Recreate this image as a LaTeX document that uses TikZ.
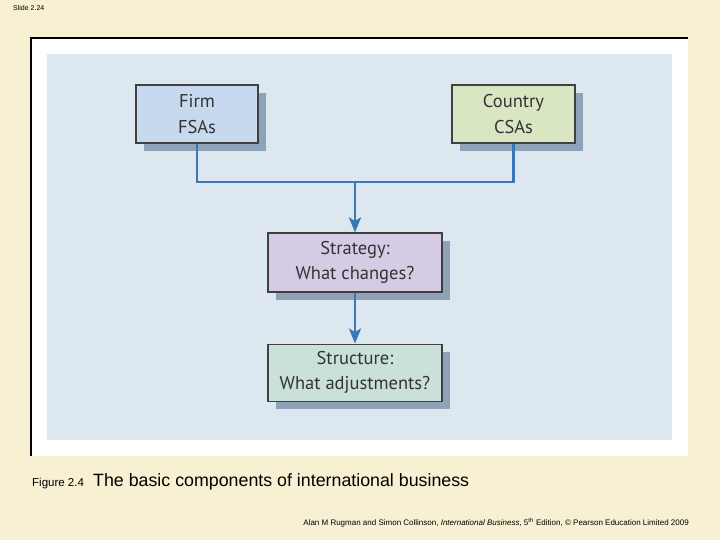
\documentclass[tikz,border=0pt]{standalone}
\usepackage{fontspec}
\setmainfont{Liberation Sans}
\newfontfamily\boxfont{PT Sans}
\usetikzlibrary{arrows.meta,positioning,shadows}
\definecolor{slideC}{HTML}{F7F0D2}
\definecolor{panelC}{HTML}{DDE7F0}
\definecolor{firmC}{HTML}{C6D9EE}
\definecolor{countryC}{HTML}{D9E6C2}
\definecolor{stratC}{HTML}{D6CBE4}
\definecolor{structC}{HTML}{C9E1D9}
\definecolor{shadeC}{HTML}{8FA3B8}
\definecolor{linkC}{HTML}{3B76B6}
\definecolor{textC}{HTML}{333333}
\tikzset{
  comp/.style={rectangle, draw=black!75, line width=1.1pt, fill=#1, align=center,
               font=\boxfont\fontsize{18.5}{25.5}\selectfont, text=textC,
               general shadow={shadow xshift=8pt, shadow yshift=-8pt, fill=shadeC}},
  link/.style={line width=2.8pt, draw=linkC},
  arr/.style={link, -{Stealth[length=15pt, width=12pt, inset=3.5pt]}},
}
\begin{document}
\begin{tikzpicture}[x=1pt, y=-1pt, node distance=51pt]
    % slide background and frame
    \fill[slideC] (0,0) rectangle (720,540);
    \useasboundingbox (0,0) rectangle (720,540);
    \fill[white] (31,38) rectangle (688,456);
    \draw[line width=1.2pt] (31,456) -- (31,38) -- (688,38);
    \fill[panelC] (47,54) rectangle (672,440);
    % the four components
    \node[comp=firmC, minimum width=122pt, minimum height=58pt] (firm) at (197,114)
      {Firm\\FSAs};
    \node[comp=countryC, minimum width=123pt, minimum height=58pt] (country) at (513.5,114)
      {Country\\CSAs};
    \coordinate (join) at (355,182);
    \node[comp=stratC, minimum width=174pt, minimum height=59pt] (strategy) at (355,262.5)
      {Strategy:\\What changes?};
    \node[comp=structC, minimum width=174pt, minimum height=57pt, below=of strategy] (structure)
      {Structure:\\What adjustments?};
    \draw[link] (firm.south) |- (join) -| (country.south);
    \draw[arr] (join) -- (strategy.north);
    \draw[arr] (strategy.south) -- (structure.north);
    % slide texts
    \node[anchor=base west, inner sep=0, font=\fontsize{7}{8}\selectfont] (slide) at (13,11)
      {Slide 2.24};
    \node[anchor=base west, inner sep=0, font=\fontsize{11.5}{13}\selectfont] (fig) at (32,486)
      {Figure 2.4};
    \node[anchor=base west, inner sep=0, font=\fontsize{17.8}{20}\selectfont] (caption) at (93,486)
      {The basic components of international business};
    \node[anchor=base east, inner sep=0, font=\fontsize{8}{9}\selectfont] (credit) at (689,525)
      {Alan M Rugman and Simon Collinson, \textit{International Business}, 5\textsuperscript{th} Edition, \textcopyright\ Pearson Education Limited 2009};
  \end{tikzpicture}
\end{document}
